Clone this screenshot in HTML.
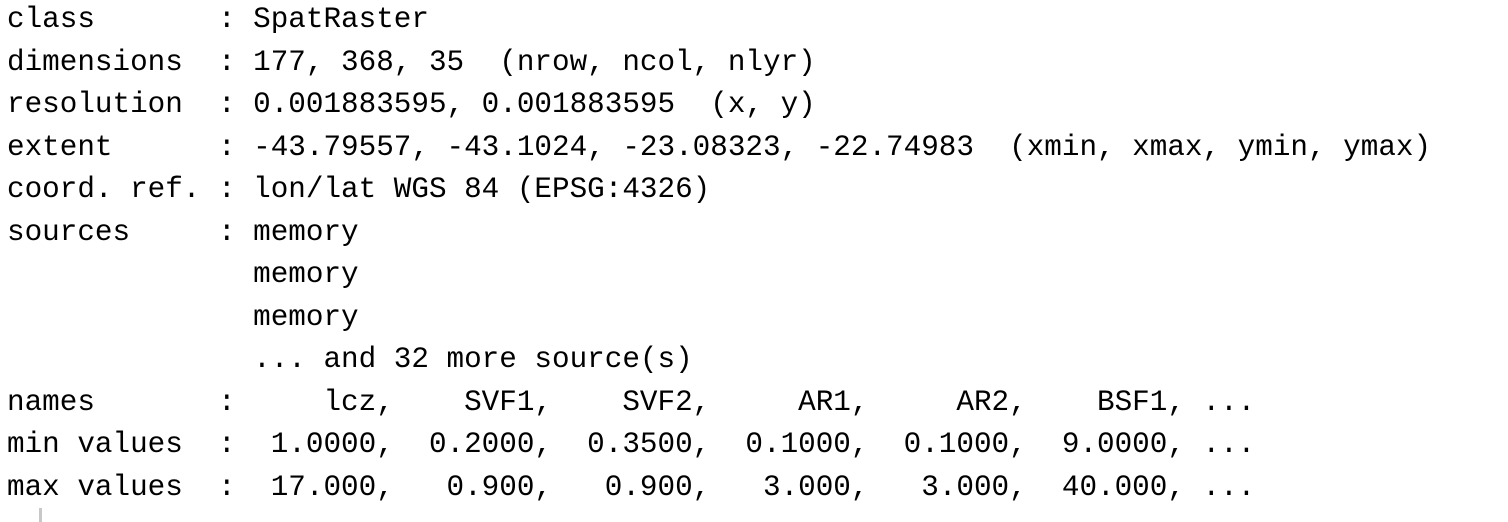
<!DOCTYPE html>
<html>
<head>
<meta charset="utf-8">
<style>
html,body{margin:0;padding:0;background:#fff;width:1508px;height:522px;overflow:hidden;}
#console{position:absolute;left:7px;top:-1px;margin:0;font-family:"Liberation Mono","DejaVu Sans Mono",monospace;font-size:29.3px;line-height:42.5px;color:#000;white-space:pre;}
#cursor{position:absolute;left:39px;top:508px;width:3px;height:14px;background:#c8c8c8;}
</style>
</head>
<body>
<pre id="console"><span>class       : SpatRaster</span>
<span>dimensions  : 177, 368, 35  (nrow, ncol, nlyr)</span>
<span>resolution  : 0.001883595, 0.001883595  (x, y)</span>
<span>extent      : -43.79557, -43.1024, -23.08323, -22.74983  (xmin, xmax, ymin, ymax)</span>
<span>coord. ref. : lon/lat WGS 84 (EPSG:4326)</span>
<span>sources     : memory
              memory
              memory
              ... and 32 more source(s)</span>
<span>names       :     lcz,    SVF1,    SVF2,     AR1,     AR2,    BSF1, ...</span>
<span>min values  :  1.0000,  0.2000,  0.3500,  0.1000,  0.1000,  9.0000, ...</span>
<span>max values  :  17.000,   0.900,   0.900,   3.000,   3.000,  40.000, ...</span></pre>
<div id="cursor"></div>
</body>
</html>
